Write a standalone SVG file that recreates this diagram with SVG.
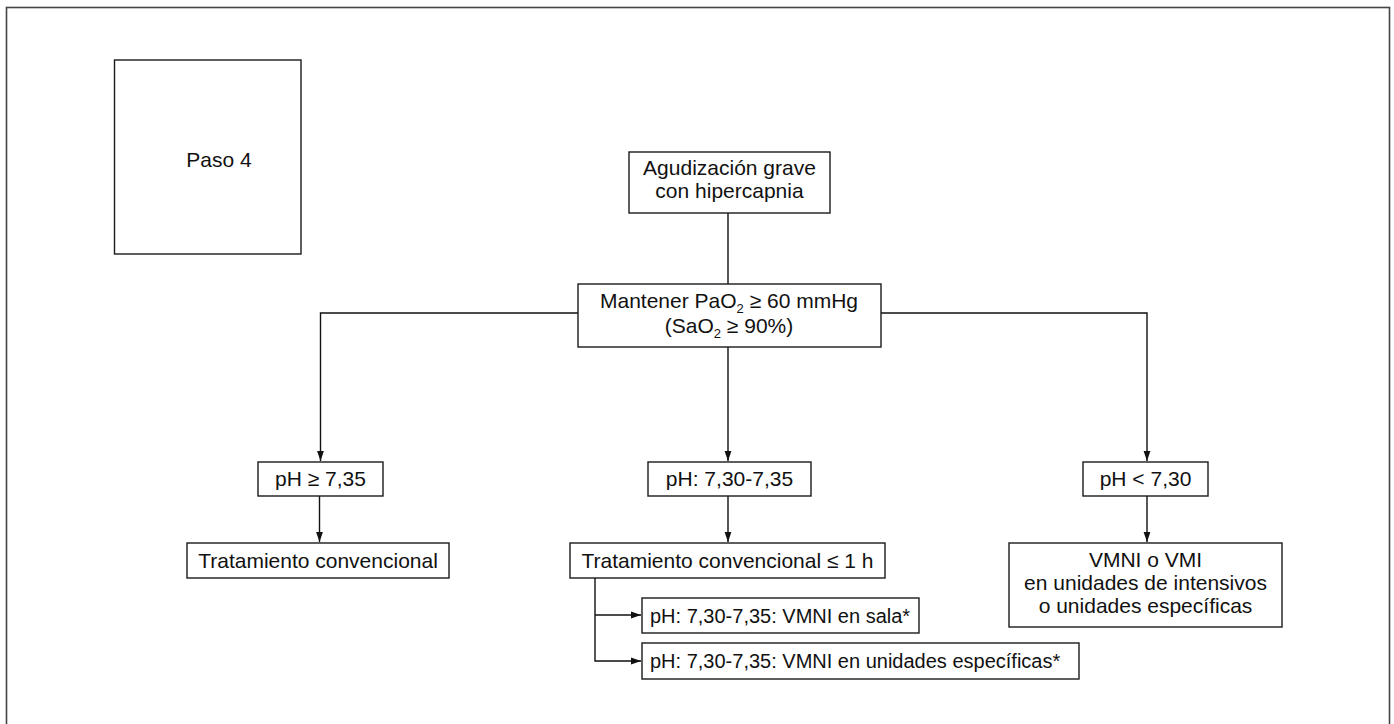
<svg xmlns="http://www.w3.org/2000/svg" width="1394" height="724" viewBox="0 0 1394 724">
<defs>
<style>
.box{fill:#fff;stroke:#1a1a1a;stroke-width:1.4}
.t{font-family:"Liberation Sans",Arial,Helvetica,sans-serif;font-size:21px;fill:#111;text-anchor:middle}
.ts{font-family:"Liberation Sans",Arial,Helvetica,sans-serif;font-size:20px;fill:#111}
.ln{fill:none;stroke:#111;stroke-width:1.4}
</style>
<marker id="ah" viewBox="0 0 10 10" refX="10" refY="5" markerWidth="10" markerHeight="10" markerUnits="userSpaceOnUse" orient="auto">
<path d="M0,1.6 L10,5 L0,8.4 Z" fill="#111"/>
</marker>
</defs>
<rect width="1394" height="724" fill="#fff"/>
<rect x="6.5" y="7.5" width="1383" height="730" fill="none" stroke="#444" stroke-width="1.6"/>

<g id="connectors">
<line class="ln" x1="728" y1="213" x2="728" y2="284"/>
<polyline class="ln" points="578,313 320.5,313 320.5,461" marker-end="url(#ah)"/>
<polyline class="ln" points="881,313 1147,313 1147,461" marker-end="url(#ah)"/>
<line class="ln" x1="728" y1="347" x2="728" y2="461" marker-end="url(#ah)"/>
<line class="ln" x1="319.5" y1="496" x2="319.5" y2="542" marker-end="url(#ah)"/>
<line class="ln" x1="728" y1="496" x2="728" y2="542" marker-end="url(#ah)"/>
<line class="ln" x1="1147" y1="496" x2="1147" y2="542" marker-end="url(#ah)"/>
<polyline class="ln" points="595,578 595,661 641,661" marker-end="url(#ah)"/>
<line class="ln" x1="595" y1="615" x2="641" y2="615" marker-end="url(#ah)"/>
</g>

<g id="paso4">
<rect class="box" x="114.5" y="60" width="186.5" height="194"/>
<text class="t" x="219" y="167">Paso 4</text>
</g>

<g id="agudizacion">
<rect class="box" x="629" y="152" width="201" height="61"/>
<text class="t" x="729.5" y="175">Agudización grave</text>
<text class="t" x="729.5" y="198">con hipercapnia</text>
</g>

<g id="mantener">
<rect class="box" x="578" y="284" width="303" height="63"/>
<text class="t" x="729" y="308">Mantener PaO<tspan font-size="13" dy="5">2</tspan><tspan dy="-5"> ≥ 60 mmHg</tspan></text>
<text class="t" x="729" y="333">(SaO<tspan font-size="13" dy="5">2</tspan><tspan dy="-5"> ≥ 90%)</tspan></text>
</g>

<g id="ph-alto">
<rect class="box" x="258" y="462" width="125" height="34"/>
<text class="t" x="320.5" y="486">pH ≥ 7,35</text>
</g>

<g id="ph-medio">
<rect class="box" x="648" y="462" width="163" height="34"/>
<text class="t" x="729.5" y="486">pH: 7,30-7,35</text>
</g>

<g id="ph-bajo">
<rect class="box" x="1083" y="462" width="125" height="34"/>
<text class="t" x="1145.5" y="486">pH &lt; 7,30</text>
</g>

<g id="trat-conv">
<rect class="box" x="187" y="543" width="262" height="35"/>
<text class="t" x="318" y="568">Tratamiento convencional</text>
</g>

<g id="trat-conv-1h">
<rect class="box" x="570" y="543" width="315" height="35"/>
<text class="t" x="727.5" y="568">Tratamiento convencional ≤ 1 h</text>
</g>

<g id="vmni-vmi">
<rect class="box" x="1009" y="543" width="273" height="84"/>
<text class="t" x="1145.5" y="567">VMNI o VMI</text>
<text class="t" x="1145.5" y="590">en unidades de intensivos</text>
<text class="t" x="1145.5" y="613">o unidades específicas</text>
</g>

<g id="vmni-sala">
<rect class="box" x="642" y="598" width="277" height="35"/>
<text class="ts" x="650" y="623">pH: 7,30-7,35: VMNI en sala*</text>
</g>

<g id="vmni-unidades">
<rect class="box" x="642" y="643" width="437" height="36"/>
<text class="ts" x="650" y="668">pH: 7,30-7,35: VMNI en unidades específicas*</text>
</g>
</svg>
